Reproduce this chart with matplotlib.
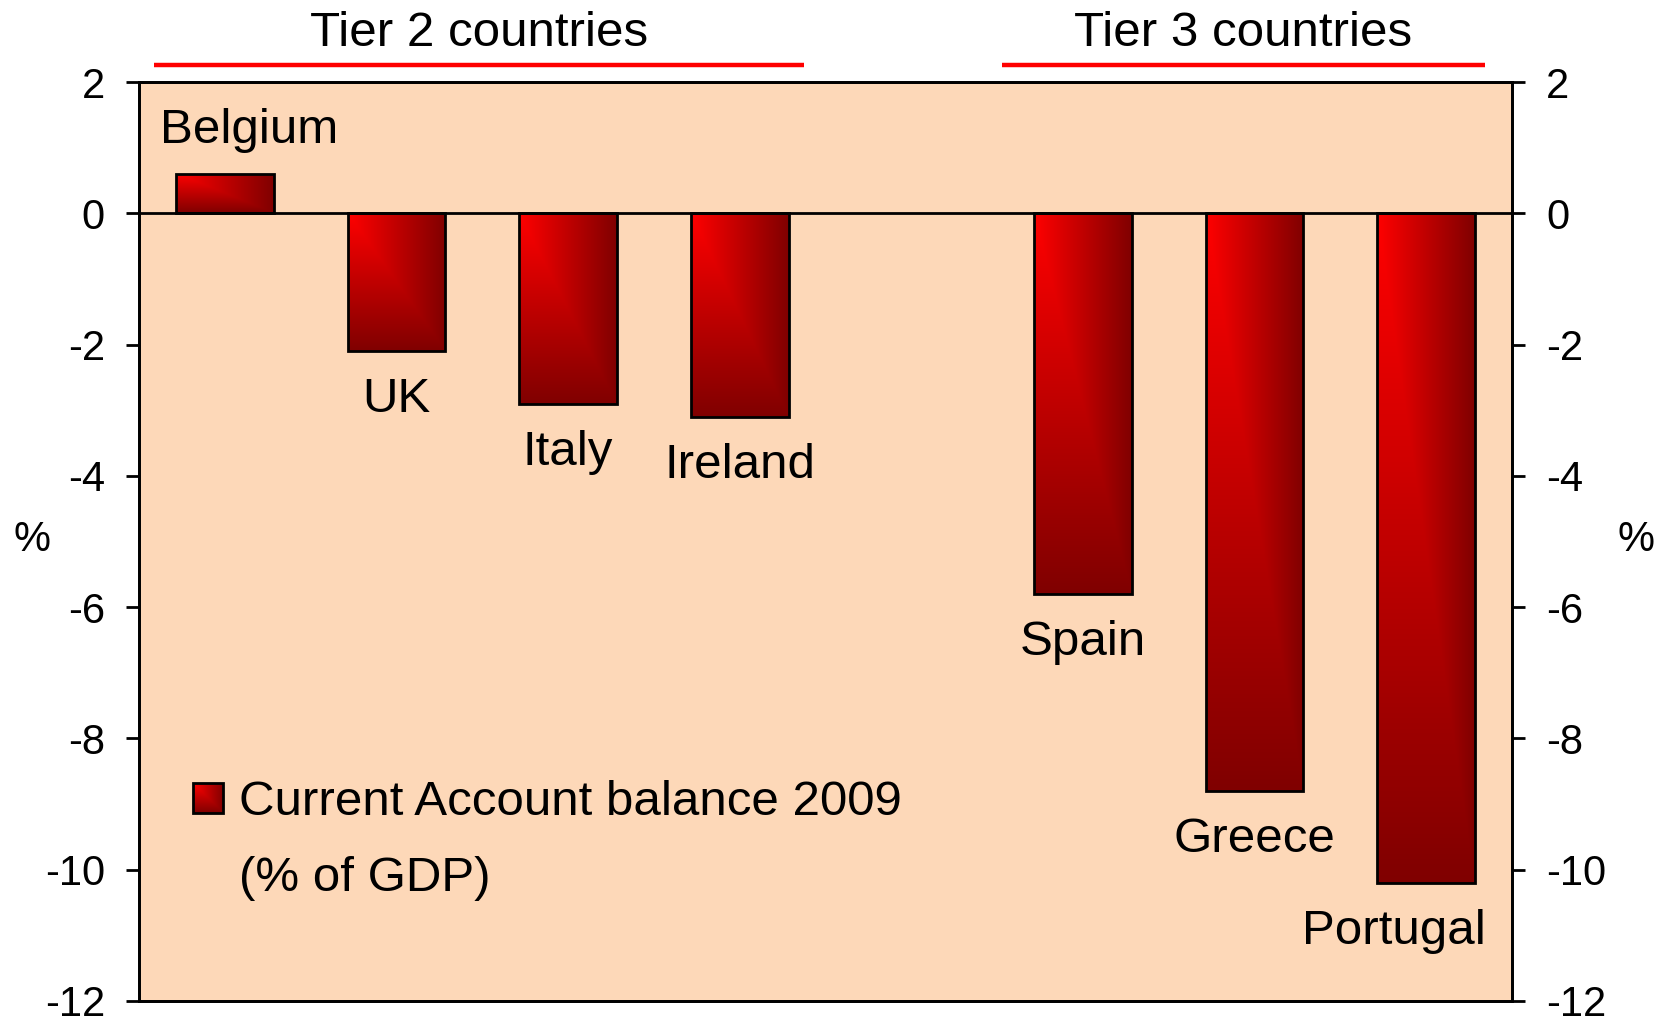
import numpy as np
import matplotlib
matplotlib.use("Agg")
import matplotlib.pyplot as plt
from matplotlib.patches import Rectangle
from matplotlib.colors import LinearSegmentedColormap

plt.rcParams["font.family"] = ["Liberation Sans", "DejaVu Sans"]

tier2_countries = ["Belgium", "UK", "Italy", "Ireland"]
tier2_values = [0.6, -2.1, -2.9, -3.1]
tier3_countries = ["Spain", "Greece", "Portugal"]
tier3_values = [-5.8, -8.8, -10.2]
group_titles = ["Tier 2 countries", "Tier 3 countries"]
legend_label = "Current Account balance 2009\n(% of GDP)"
y_ticks = [-12, -10, -8, -6, -4, -2, 0, 2]

# small sideways nudges for labels that would otherwise clip
label_dx = {"Belgium": 0.14, "Portugal": -0.19}

countries = tier2_countries + tier3_countries
values = tier2_values + tier3_values
# one empty slot between the two groups
n2 = len(tier2_countries)
x_pos = list(range(n2)) + [n2 + 1 + i for i in range(len(tier3_countries))]
n_slots = n2 + 1 + len(tier3_countries)

bar_cmap = LinearSegmentedColormap.from_list("bar", ["#ff0000", "#800000"])
bg_color = "#fdd8b8"
label_size = 35.5
tick_size = 30
line_w = 2.0

fig = plt.figure(figsize=(16.59, 10.19), dpi=100)
ax = fig.add_axes((0.0838, 0.0177, 0.8276, 0.9018))
ax.set_facecolor(bg_color)

bars = ax.bar(x_pos, values, width=0.57, facecolor="none",
              edgecolor="black", linewidth=line_w, zorder=3)


def gradient(n=200):
    u = np.linspace(0, 1, n)
    uu, vv = np.meshgrid(u, u)
    return np.maximum(uu, vv)


grad = gradient()
for bar in bars:
    x0, y0 = bar.get_x(), bar.get_y()
    w, h = bar.get_width(), bar.get_height()
    bottom, top = min(y0, y0 + h), max(y0, y0 + h)
    im = ax.imshow(grad, cmap=bar_cmap, extent=(x0, x0 + w, bottom, top),
                   origin="upper", aspect="auto", zorder=2,
                   interpolation="bilinear")
    im.set_clip_path(bar)

ax.axhline(0, color="black", linewidth=line_w, zorder=4)

# country labels, placed past the end of each bar
for name, xp, v in zip(countries, x_pos, values):
    off = 0.66 if v >= 0 else -0.74
    ax.text(xp + label_dx.get(name, 0), v + off, name, ha="center",
            va="center", fontsize=label_size, zorder=5)

# group headings with red underline above the plot
trans = ax.get_xaxis_transform()
groups = [
    (group_titles[0], -0.41, n2 - 1 + 0.375),
    (group_titles[1], n2 + 0.53, n_slots - 1 + 0.34),
]
for title, xa, xb in groups:
    ax.plot([xa, xb], [1.019, 1.019], color="#ff0000", linewidth=3.2,
            transform=trans, clip_on=False, solid_capstyle="butt")
    ax.text((xa + xb) / 2, 1.053, title, transform=trans, ha="center",
            va="center", fontsize=label_size)

# legend drawn by hand so the swatch keeps the gradient
sw = Rectangle((0.0393, 0.2046), 0.0219, 0.0326, transform=ax.transAxes,
               facecolor="none", edgecolor="black", linewidth=line_w,
               zorder=6)
ax.add_patch(sw)
im = ax.imshow(grad, cmap=bar_cmap, extent=(0.0393, 0.0612, 0.2046, 0.2372),
               transform=ax.transAxes, origin="upper", aspect="auto",
               zorder=5)
im.set_clip_path(sw)
ax.text(0.0728, 0.1745, legend_label, transform=ax.transAxes, ha="left",
        va="center", fontsize=label_size, linespacing=1.9, zorder=6)

ax.set_xlim(-0.5, n_slots - 0.5)
ax.set_ylim(-12, 2)
ax.set_xticks([])
ax.set_yticks(y_ticks)
ax.set_yticklabels([str(t) for t in y_ticks])
ax.tick_params(axis="y", direction="out", length=9.5, width=line_w,
               labelsize=tick_size, pad=15)
for s in ax.spines.values():
    s.set_linewidth(line_w)

ax2 = ax.twinx()
ax2.set_ylim(-12, 2)
ax2.set_yticks(y_ticks)
ax2.set_yticklabels([str(t) for t in y_ticks])
ax2.tick_params(axis="y", direction="out", length=9.5, width=line_w,
                labelsize=tick_size, pad=15)
for s in ax2.spines.values():
    s.set_linewidth(line_w)

ax.set_ylabel("%", rotation=0, fontsize=tick_size, va="center", ha="center")
ax.yaxis.set_label_coords(-0.078, 0.502)
ax2.set_ylabel("%", rotation=0, fontsize=tick_size, va="center", ha="center")
ax2.yaxis.set_label_coords(1.090, 0.502)

fig.savefig("out.png", dpi=100)
